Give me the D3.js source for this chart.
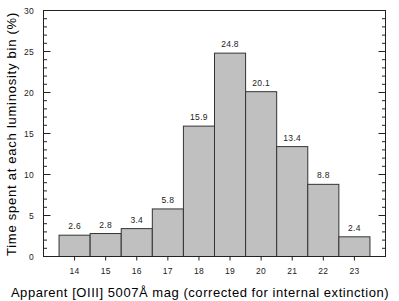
<!DOCTYPE html>
<html><head><meta charset="utf-8">
<script src="https://cdn.jsdelivr.net/npm/d3@7"></script>
<style>body{margin:0;background:#fff}svg{display:block}</style>
</head><body>
<svg id="c" width="399" height="301"></svg>
<script>
const categories = [14,15,16,17,18,19,20,21,22,23];
const values = [2.6,2.8,3.4,5.8,15.9,24.8,20.1,13.4,8.8,2.4];
const yTicks = [0,5,10,15,20,25,30];
const xTitle = "Apparent [OIII] 5007Å mag (corrected for internal extinction)";
const yTitle = "Time spent at each luminosity bin (%)";

const svg = d3.select("#c");
const L=43.5, R=385.5, T=10.5, B=256.5;
const x = d3.scaleLinear().domain([13,24]).range([L,R]);
const y = d3.scaleLinear().domain([0,30]).range([B,T]);
const font = "Arial, 'Liberation Sans', sans-serif";

// bars
svg.selectAll("rect.bar").data(values).enter().append("rect")
  .attr("x",(d,i)=>x(categories[i]-0.5))
  .attr("width",(d,i)=>x(categories[i]+0.5)-x(categories[i]-0.5))
  .attr("y",d=>y(d)).attr("height",d=>y(0)-y(d))
  .attr("fill","#c0c0c0").attr("stroke","#333").attr("stroke-width",1);

// labels
svg.selectAll("text.val").data(values).enter().append("text")
  .attr("x",(d,i)=>x(categories[i])).attr("y",d=>y(d)-6)
  .attr("text-anchor","middle").attr("font-family",font).attr("font-size",8.5)
  .attr("letter-spacing",0.3)
  .attr("fill","#222").text(d=>d.toFixed(1));

// frame
svg.append("rect").attr("x",L).attr("y",T).attr("width",R-L).attr("height",B-T)
  .attr("fill","none").attr("stroke","#222").attr("stroke-width",1);

// y ticks (inward both sides)
const minor = d3.range(0,31,1);
minor.forEach(v=>{
  const maj = v%5===0; const len = maj?7:3.5;
  svg.append("line").attr("x1",L).attr("x2",L+len).attr("y1",y(v)).attr("y2",y(v)).attr("stroke","#222");
  svg.append("line").attr("x1",R).attr("x2",R-len).attr("y1",y(v)).attr("y2",y(v)).attr("stroke","#222");
});
svg.selectAll("text.yt").data(yTicks).enter().append("text")
  .attr("x",34).attr("y",d=>y(d)+3).attr("text-anchor","end")
  .attr("font-family",font).attr("font-size",8.5).attr("letter-spacing",0.3)
  .attr("fill","#222").text(d=>d);

// x ticks
categories.forEach(c=>{
  svg.append("line").attr("x1",x(c)).attr("x2",x(c)).attr("y1",B).attr("y2",B+4).attr("stroke","#222");
});
svg.selectAll("text.xt").data(categories).enter().append("text")
  .attr("x",d=>x(d)).attr("y",274).attr("text-anchor","middle")
  .attr("font-family",font).attr("font-size",8.5).attr("letter-spacing",0.3)
  .attr("fill","#222").text(d=>d);

// titles
svg.append("text").attr("x",200).attr("y",297).attr("text-anchor","middle")
  .attr("font-family",font).attr("font-size",13).attr("letter-spacing",0.55)
  .attr("fill","#000").text(xTitle);
svg.append("text").attr("transform","translate(16,134) rotate(-90)").attr("text-anchor","middle")
  .attr("font-family",font).attr("font-size",13).attr("letter-spacing",0.75)
  .attr("fill","#000").text(yTitle);
</script>
</body></html>
